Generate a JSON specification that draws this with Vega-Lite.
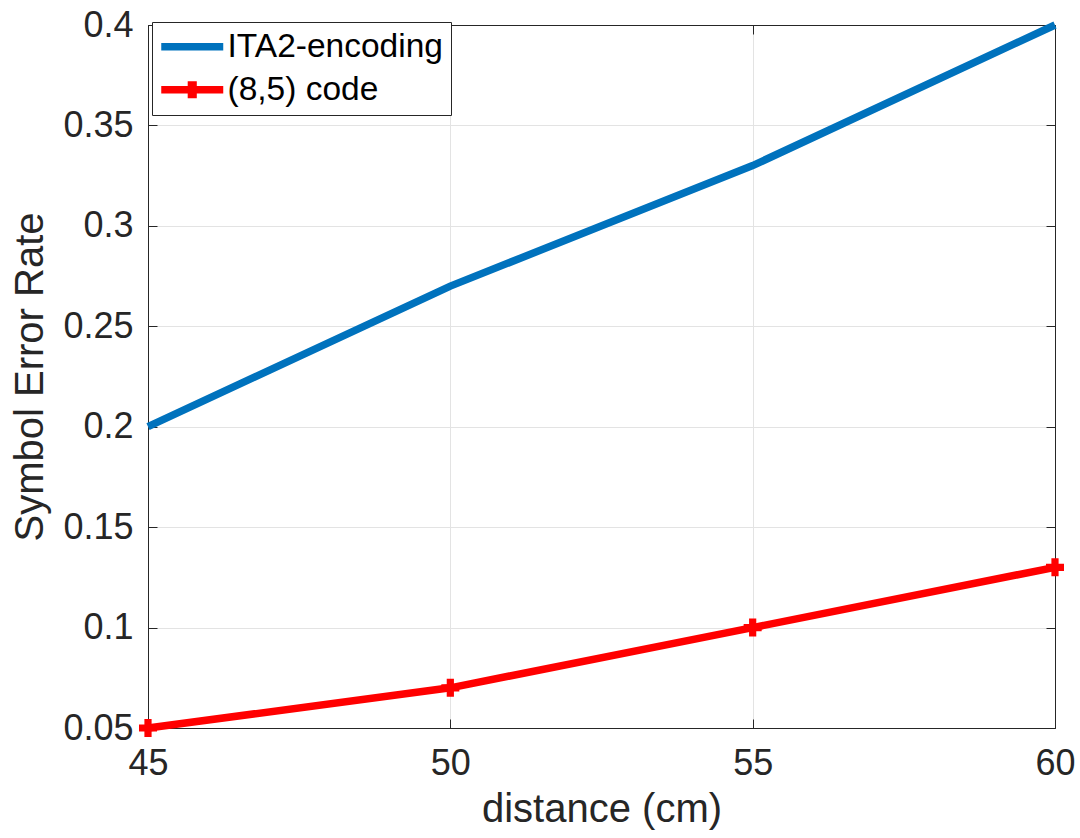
{
  "$schema": "https://vega.github.io/schema/vega-lite/v6.json",
  "width": 907,
  "height": 703,
  "autosize": {"type": "none"},
  "padding": {"left": 148, "top": 25, "right": 25, "bottom": 110},
  "background": "white",
  "config": {
    "font": "Liberation Sans",
    "view": {"stroke": "#262626", "strokeWidth": 1},
    "axis": {
      "labelFont": "Liberation Sans",
      "titleFont": "Liberation Sans",
      "labelColor": "#262626",
      "titleColor": "#262626",
      "domainColor": "#262626",
      "tickColor": "#262626",
      "gridColor": "#e3e3e3",
      "labelFontSize": 36,
      "titleFontSize": 40,
      "titleFontWeight": "normal",
      "tickSize": -9
    }
  },
  "data": {
    "values": [
      {"distance": 45, "ser": 0.20, "series": "ITA2-encoding"},
      {"distance": 50, "ser": 0.27, "series": "ITA2-encoding"},
      {"distance": 55, "ser": 0.33, "series": "ITA2-encoding"},
      {"distance": 60, "ser": 0.40, "series": "ITA2-encoding"},
      {"distance": 45, "ser": 0.05, "series": "(8,5) code"},
      {"distance": 50, "ser": 0.07, "series": "(8,5) code"},
      {"distance": 55, "ser": 0.10, "series": "(8,5) code"},
      {"distance": 60, "ser": 0.13, "series": "(8,5) code"}
    ]
  },
  "layer": [
    {
      "mark": {"type": "line", "strokeWidth": 7.5, "clip": false},
      "encoding": {
        "x": {
          "field": "distance", "type": "quantitative",
          "scale": {"domain": [45, 60], "nice": false, "zero": false},
          "axis": {"orient": "bottom", "values": [45, 50, 55, 60], "format": "~g", "title": "distance (cm)", "grid": true, "labelPadding": 27, "titlePadding": 8, "labelFlush": false}
        },
        "y": {
          "field": "ser", "type": "quantitative",
          "scale": {"domain": [0.05, 0.4], "nice": false, "zero": false},
          "axis": {"orient": "left", "values": [0.05, 0.1, 0.15, 0.2, 0.25, 0.3, 0.35, 0.4], "format": "~g", "title": "Symbol Error Rate", "grid": true, "labelPadding": 24, "titlePadding": 12, "labelFlush": false}
        },
        "color": {
          "field": "series", "type": "nominal",
          "scale": {"domain": ["ITA2-encoding", "(8,5) code"], "range": ["#0072BD", "#FF0000"]},
          "legend": {
            "orient": "none", "legendX": 4, "legendY": -3, "title": null,
            "symbolOpacity": 1, "symbolSize": 427, "symbolStrokeWidth": 0,
            "labelFontSize": 33.5, "labelFont": "Liberation Sans", "labelColor": "#000000", "labelLimit": 0,
            "strokeColor": "#262626", "fillColor": "white", "padding": 8,
            "rowPadding": 8, "labelOffset": 34,
            "encode": {"symbols": {"update": {"opacity": {"value": 1}, "fillOpacity": {"value": 1}}}}
          }
        }
      }
    },
    {
      "transform": [{"filter": "datum.series === '(8,5) code'"}],
      "mark": {"type": "point", "shape": "cross", "filled": true, "size": 324, "color": "#FF0000", "opacity": 1, "clip": false},
      "encoding": {
        "x": {"field": "distance", "type": "quantitative", "axis": {"orient": "top", "values": [45, 50, 55, 60], "labels": false, "title": null, "grid": false}},
        "y": {"field": "ser", "type": "quantitative", "axis": {"orient": "right", "values": [0.05, 0.1, 0.15, 0.2, 0.25, 0.3, 0.35, 0.4], "labels": false, "title": null, "grid": false}}
      }
    },
    {
      "mark": {"type": "point", "filled": true, "opacity": 0},
      "encoding": {
        "x": {"field": "distance", "type": "quantitative", "axis": null},
        "y": {"field": "ser", "type": "quantitative", "axis": null},
        "color": {"field": "series", "type": "nominal"},
        "shape": {
          "field": "series", "type": "nominal",
          "scale": {"domain": ["ITA2-encoding", "(8,5) code"], "range": ["M-1.5,-0.37L4.5,-0.37L4.5,0.37L-1.5,0.37Z", "M-1.5,-0.37L4.5,-0.37L4.5,0.37L-1.5,0.37Z M1.06,-0.82L1.94,-0.82L1.94,0.82L1.06,0.82Z"]}
        }
      }
    }
  ]
}
